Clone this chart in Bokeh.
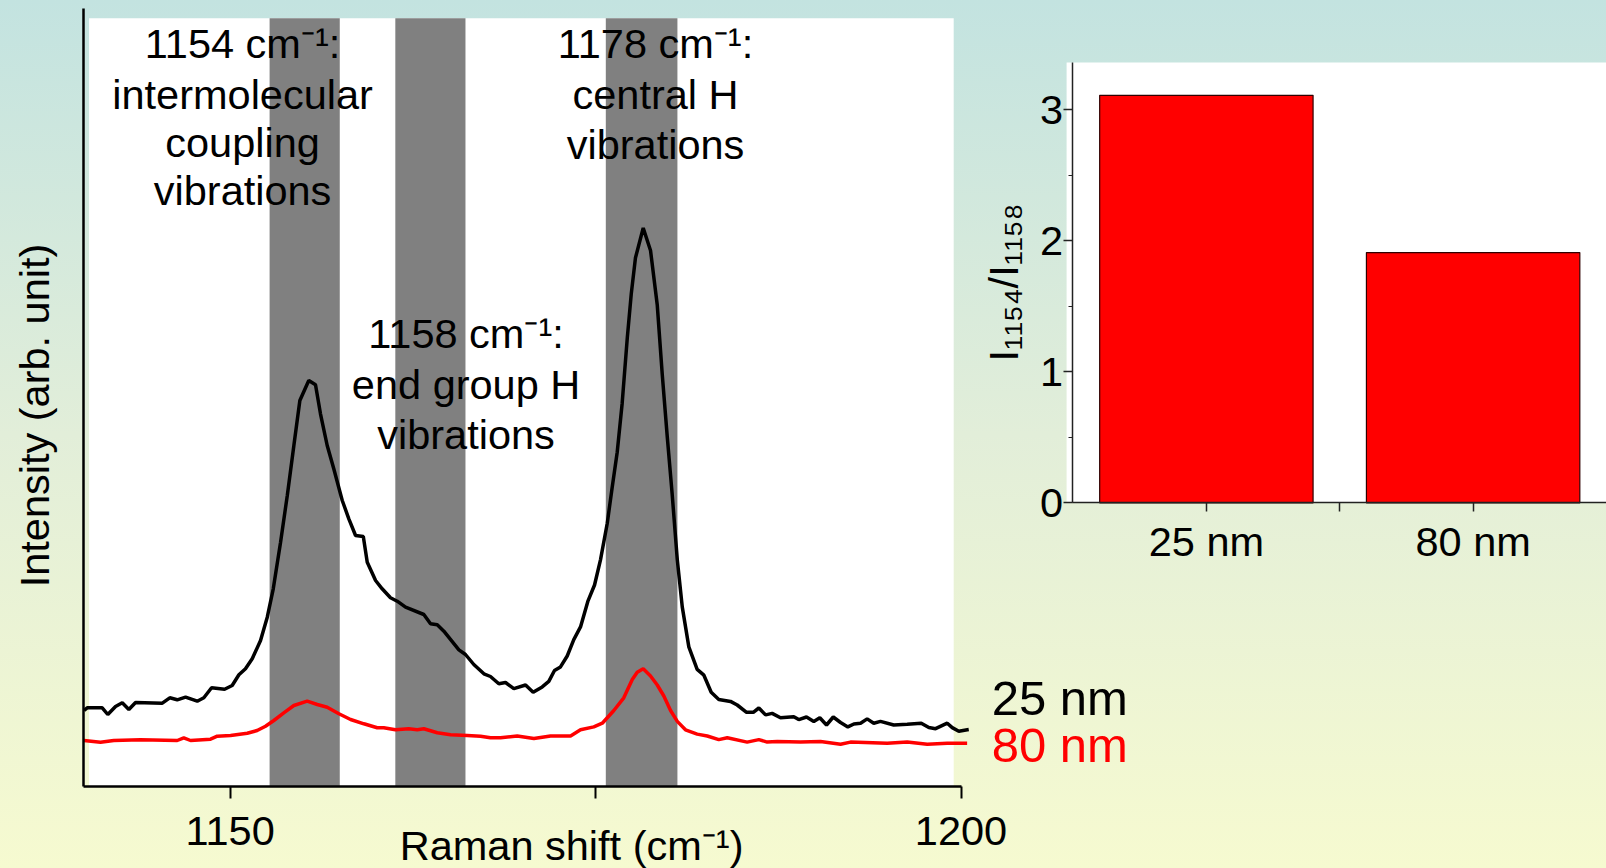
import math
from bokeh.plotting import figure
from bokeh.models import (Range1d, FixedTicker, SingleIntervalTicker, LinearAxis,
                          BoxAnnotation, Label)
from bokeh.embed import file_html
from bokeh.resources import INLINE

FONT = "Liberation Sans"

# ---------------- data ----------------
# Raman spectrum, 25 nm sample (arb. units)
shift_25nm = [1140.0, 1140.22, 1141.25, 1141.63, 1142.16, 1142.62, 1143.07, 1143.53, 1145.36, 1145.87,
              1146.38, 1146.95, 1147.75, 1148.20, 1148.73, 1149.62, 1150.14, 1150.60, 1151.05, 1151.51,
              1152.08, 1152.54, 1152.95, 1153.45, 1153.91, 1154.36, 1154.77, 1155.38, 1155.84, 1156.18,
              1156.64, 1157.09, 1157.67, 1158.12, 1158.58, 1159.11, 1159.38, 1159.95, 1160.40, 1160.97,
              1161.43, 1162.00, 1163.25, 1163.71, 1164.17, 1164.62, 1165.65, 1166.10, 1166.67, 1167.36,
              1167.81, 1168.38, 1168.84, 1169.41, 1170.21, 1170.73, 1171.35, 1171.80, 1172.19, 1172.60,
              1173.06, 1173.51, 1173.97, 1174.47, 1174.93, 1175.34, 1175.80, 1176.14, 1176.48, 1176.82,
              1177.17, 1177.44, 1177.73, 1178.26, 1178.76, 1179.22, 1179.56, 1179.90, 1180.24, 1180.59,
              1180.93, 1181.38, 1181.95, 1182.41, 1182.91, 1183.43, 1184.23, 1184.69, 1185.33, 1185.79,
              1186.17, 1186.63, 1187.08, 1187.65, 1188.56, 1188.90, 1189.43, 1189.93, 1190.34, 1190.80,
              1191.26, 1191.76, 1192.26, 1192.67, 1193.13, 1193.58, 1194.03, 1194.49, 1195.40, 1196.32,
              1197.28, 1197.80, 1198.26, 1199.06, 1199.40, 1199.85, 1200.53]
intensity_25nm = [76, 78.7, 78.7, 72, 80, 83.7, 77, 84, 83.3, 88.7,
                  86.7, 89.3, 85.3, 88.7, 98.7, 97.3, 101, 111.7, 117.7, 127.7,
                  146, 169.3, 197.7, 244.3, 291, 341, 386, 406, 401.7, 372.7,
                  341, 317.7, 286, 267.7, 251, 250, 224.3, 206, 197.7, 188.7,
                  185.3, 179.3, 172, 162.7, 161.7, 155.3, 136.7, 132, 122, 112.7,
                  110, 102.7, 104, 97.8, 101.5, 94.2, 99.6, 105.1, 116, 119.6,
                  130.5, 146.9, 159.6, 185.1, 201.5, 226.9, 263.3, 299.6, 334.2, 383.3,
                  448.7, 492.4, 528.7, 558.5, 536, 481.5, 412.4, 350.5, 292.4, 226.9,
                  179.6, 139.6, 117.1, 111.3, 94.2, 86.9, 85.1, 81.5, 74.2, 74.2,
                  78.5, 71.6, 73.1, 68.7, 69.8, 66.9, 69.5, 65.1, 68.7, 61.5,
                  69.5, 64, 59.6, 62.5, 63.3, 67.6, 63.3, 65.1, 61.5, 62.2,
                  63.3, 58.9, 57.8, 63.3, 58.9, 55.3, 56.9]

# Raman spectrum, 80 nm sample (arb. units)
shift_80nm = [1140.0, 1141.13, 1142.04, 1143.87, 1146.38, 1146.83, 1147.29, 1148.66, 1149.12, 1150.03,
              1151.17, 1151.85, 1152.42, 1152.99, 1153.67, 1154.36, 1155.27, 1155.96, 1156.64, 1157.44,
              1158.24, 1159.15, 1160.06, 1160.51, 1161.31, 1162.22, 1162.80, 1163.25, 1164.17, 1165.08,
              1166.22, 1167.13, 1167.81, 1168.50, 1169.64, 1170.78, 1171.92, 1173.29, 1173.97, 1174.88,
              1175.46, 1176.25, 1176.93, 1177.51, 1177.85, 1178.26, 1178.76, 1179.22, 1179.67, 1180.13,
              1180.59, 1181.15, 1181.95, 1182.64, 1183.43, 1184.01, 1185.37, 1186.17, 1186.74, 1187.43,
              1189.02, 1190.39, 1191.76, 1192.44, 1194.95, 1196.32, 1197.69, 1199.06, 1200.42]
intensity_80nm = [46, 44.3, 46, 46.7, 46, 48.7, 46, 47.3, 50.3, 51,
                  53.3, 56, 60.3, 66, 73.7, 81, 85.3, 82, 79.3, 72.7,
                  67, 62.7, 58.7, 58.7, 56.7, 57.7, 56.7, 57.7, 53.7, 51.7,
                  51, 50.3, 48.7, 48.7, 50.5, 48, 50.5, 50.5, 56.7, 59.6,
                  63.3, 76, 88.7, 106.9, 114.2, 117.8, 110.5, 101.5, 90.5, 76,
                  65.1, 56.7, 52.4, 50.5, 46.9, 48.7, 44.4, 46.9, 44.4, 45.1,
                  44.4, 45.1, 42.2, 44.4, 43.3, 44.4, 42.2, 43.3, 43.3]

# highlighted vibration bands (cm-1)
band_start = [1152.7, 1161.3, 1175.7]
band_end = [1157.5, 1166.1, 1180.6]

# band annotations
ann_lines = [["1154 cm\u207b\u00b9:", "intermolecular", "coupling", "vibrations"],
             ["1158 cm\u207b\u00b9:", "end group H", "vibrations"],
             ["1178 cm\u207b\u00b9:", "central H", "vibrations"]]

# x-axis ticks of the spectrum
x_ticks = [1150, 1175, 1200]
x_tick_labels = {1150: "1150", 1175: "", 1200: "1200"}

# bar chart: intensity ratio I1154/I1158
samples = ["25 nm", "80 nm"]
ratio = [3.11, 1.91]
sample_colors = ["black", "#ff0000"]

# ---------------- figure (frame = whole canvas) ----------------
p = figure(width=1606, height=868, x_range=Range1d(1134.29, 1244.16), y_range=Range1d(-82, 786),
           output_backend="svg", toolbar_location=None,
           min_border_left=0, min_border_right=0, min_border_top=0, min_border_bottom=0)
p.background_fill_alpha = 0
p.border_fill_alpha = 0
p.outline_line_color = None
p.grid.visible = False
p.styles = {"background": "linear-gradient(180deg, #c3e3e0 0%, #e2eed9 50%, #f6fad0 100%)"}

# ---- spectra panel ----
p.add_layout(BoxAnnotation(left=1140.35, right=1199.5, bottom=0, top=768.3,
                           fill_color="white", fill_alpha=1, line_color=None, level="underlay"))
for b0, b1 in zip(band_start, band_end):
    p.add_layout(BoxAnnotation(left=b0, right=b1, bottom=0, top=768.3,
                               fill_color="#808080", fill_alpha=1, line_color=None, level="underlay"))

p.line(shift_25nm, intensity_25nm, line_color=sample_colors[0], line_width=3.5)
p.line(shift_80nm, intensity_80nm, line_color=sample_colors[1], line_width=3.5)

xa = p.xaxis[0]
xa.fixed_location = 0
xa.bounds = (1140, 1200)
xa.ticker = FixedTicker(ticks=x_ticks)
xa.major_label_overrides = x_tick_labels
xa.axis_line_width = 2.5
xa.axis_line_color = "black"
xa.major_tick_out = 12
xa.major_tick_in = 0
xa.major_tick_line_width = 2
xa.minor_tick_out = 0
xa.major_label_standoff = 18
xa.major_label_text_font = FONT
xa.major_label_text_font_size = "41.5px"
xa.major_label_text_color = "black"

ya = p.yaxis[0]
ya.fixed_location = 1140
ya.bounds = (0, 777.7)
ya.ticker = FixedTicker(ticks=[])
ya.axis_line_width = 2.5
ya.axis_line_color = "black"
ya.major_tick_out = 0
ya.minor_tick_out = 0
ya.major_label_text_font_size = "0px"

ann_x = [1150.85, 1166.14, 1179.1]
ann_y = [[743, 692, 644, 596], [452.7, 402, 352], [742.7, 692, 642]]
for lines, x, ys in zip(ann_lines, ann_x, ann_y):
    for t, y in zip(lines, ys):
        p.add_layout(Label(x=x, y=y, text=t, text_align="center", text_baseline="alphabetic",
                           text_font=FONT, text_font_size="41.5px", text_color="black"))

p.add_layout(Label(x=1136.6, y=371, text="Intensity (arb. unit)", angle=math.pi / 2,
                   text_align="center", text_baseline="alphabetic",
                   text_font=FONT, text_font_size="41.5px", text_color="black"))
p.add_layout(Label(x=1173.36, y=-58.6, text="Raman shift (cm\u207b\u00b9)",
                   text_align="center", text_baseline="alphabetic",
                   text_font=FONT, text_font_size="41.5px", text_color="black"))

for name, col, y in zip(samples, sample_colors, [89, 42]):
    p.add_layout(Label(x=1202.1, y=y, text=name, text_align="left", text_baseline="alphabetic",
                       text_font=FONT, text_font_size="49px", text_color=col))

# ---- ratio bar panel (own ranges) ----
p.extra_x_ranges = {"bar_x": Range1d(-4.0206, 2.0)}
p.extra_y_ranges = {"bar_y": Range1d(-2.788, 3.833)}
bar_pos = [i + 0.5 for i in range(len(samples))]

p.add_layout(BoxAnnotation(left=-0.024, right=2.0, bottom=0, top=3.36,
                           x_range_name="bar_x", y_range_name="bar_y",
                           fill_color="white", fill_alpha=1, line_color=None, level="underlay"))
p.vbar(x=bar_pos, top=ratio, width=0.8, x_range_name="bar_x", y_range_name="bar_y",
       fill_color="#ff0000", line_color="#300000", line_width=1.2)

bar_ticks = sorted(bar_pos + [i for i in range(1, len(samples))])
bar_labels = {bp: s for bp, s in zip(bar_pos, samples)}
bar_labels.update({i: "" for i in range(1, len(samples))})

bx = LinearAxis(x_range_name="bar_x", y_range_name="bar_y", fixed_location=0, bounds=(0, 2))
bx.ticker = FixedTicker(ticks=bar_ticks)
bx.major_label_overrides = bar_labels
bx.axis_line_color = "#222222"
bx.axis_line_width = 1.5
bx.major_tick_line_color = "#222222"
bx.major_tick_line_width = 1.5
bx.major_tick_out = 9
bx.major_tick_in = 0
bx.minor_tick_out = 0
bx.major_label_standoff = 6
bx.major_label_text_font = FONT
bx.major_label_text_font_size = "41.5px"
bx.major_label_text_color = "black"
p.add_layout(bx, "below")

by = LinearAxis(x_range_name="bar_x", y_range_name="bar_y", fixed_location=0, bounds=(0, 3.36))
by.ticker = SingleIntervalTicker(interval=1, num_minor_ticks=2)
by.axis_line_color = "#222222"
by.axis_line_width = 1.5
by.major_tick_line_color = "#222222"
by.minor_tick_line_color = "#222222"
by.major_tick_line_width = 1.5
by.minor_tick_line_width = 1.2
by.major_tick_out = 9
by.major_tick_in = 0
by.minor_tick_out = 4
by.minor_tick_in = 0
by.major_label_standoff = 1
by.major_label_text_font = FONT
by.major_label_text_font_size = "41.5px"
by.major_label_text_color = "black"
by.axis_label = "I\u2081\u2081\u2085\u2084/I\u2081\u2081\u2085\u2088"
by.axis_label_text_font = FONT
by.axis_label_text_font_size = "41.5px"
by.axis_label_text_font_style = "normal"
by.axis_label_text_color = "black"
by.axis_label_standoff = 9
p.add_layout(by, "left")

open("out.html", "w").write(file_html(p, INLINE))
